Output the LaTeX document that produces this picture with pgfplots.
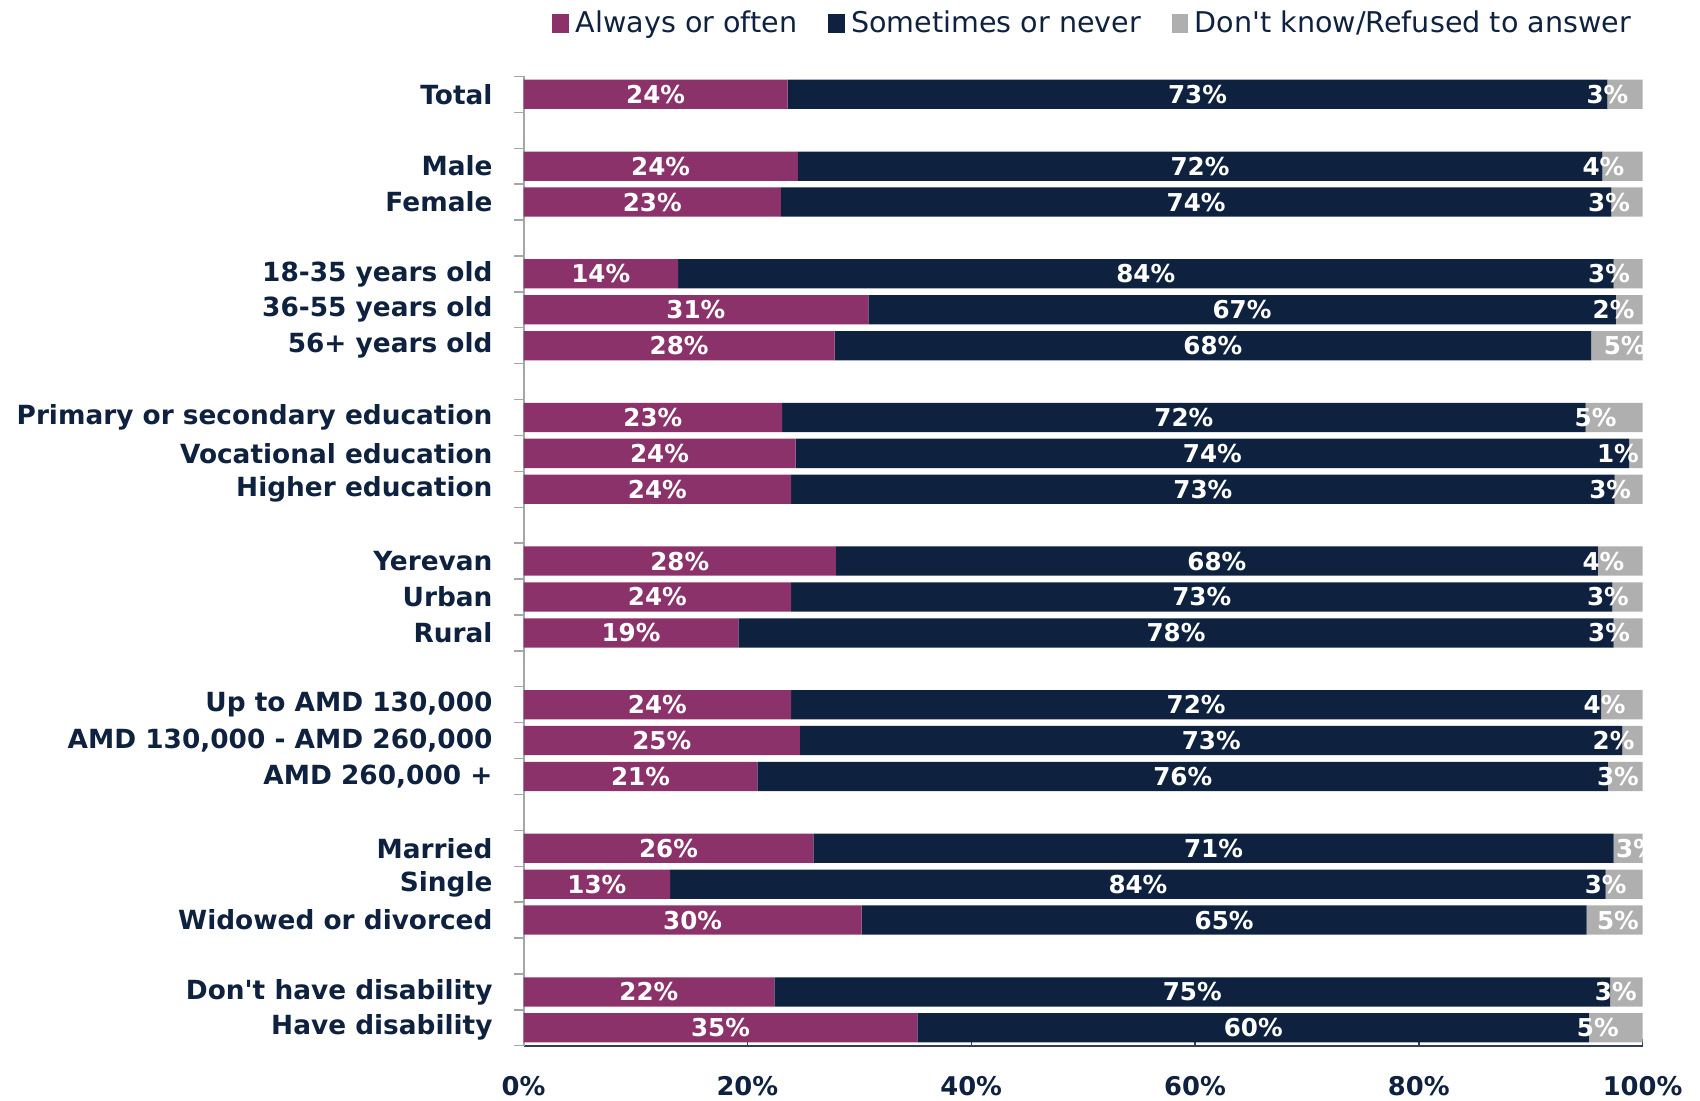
\documentclass[border=0pt]{standalone}
\usepackage{fontspec}
\setmainfont{DejaVu Sans}
\usepackage{pgfplots}
\usepackage{pgfplotstable}
\pgfplotsset{compat=1.18}
\definecolor{cmag}{RGB}{140,50,106}
\definecolor{cnavy}{RGB}{14,34,64}
\definecolor{cgrey}{RGB}{175,175,175}
\definecolor{ctext}{RGB}{14,34,64}
\definecolor{caxis}{RGB}{166,166,166}
\definecolor{cbot}{RGB}{50,62,84}

\pgfplotstableread{
y  a     b      c     la lb lc gx
0  23.6  73.25  3.15  24 73 3  96.86
2  24.5  71.9   3.6   24 72 4  96.5
3  23.0  74.2   2.8   23 74 3  97.0
5  13.8  83.6   2.6   14 84 3  97.0
6  30.8  66.8   2.4   31 67 2  97.4
7  27.8  67.6   4.6   28 68 5  98.4
9  23.1  71.8   5.1   23 72 5  95.8
10 24.3  74.5   1.2   24 74 1  97.8
11 23.9  73.6   2.5   24 73 3  97.1
13 27.9  68.1   4.0   28 68 4  96.5
14 23.9  73.4   2.7   24 73 3  96.9
15 19.2  78.2   2.6   19 78 3  97.0
17 23.9  72.4   3.7   24 72 4  96.6
18 24.7  73.5   1.8   25 73 2  97.4
19 20.9  76.0   3.1   21 76 3  97.8
21 25.9  71.5   2.6   26 71 3  99.5
22 13.1  83.6   3.3   13 84 3  96.7
23 30.2  64.8   5.0   30 65 5  97.8
25 22.4  74.7   2.9   22 75 3  97.6
26 35.2  60.0   4.8   35 60 5  96.0
}\data

\begin{document}
\begin{tikzpicture}
\useasboundingbox (-7.854,-0.8145) rectangle (17.646,15.686);
\begin{axis}[
  scale only axis, width=16.785cm, height=14.54cm,
  xmin=0, xmax=100, ymin=-0.5, ymax=26.5, y dir=reverse,
  xbar stacked, bar width=0.815,
  axis x line*=bottom, axis y line*=left,
  x axis line style={draw=cbot, line width=0.8pt},
  y axis line style={draw=caxis, line width=0.8pt},
  tick align=outside,
  major tick length=0.1cm, minor tick length=0.15cm,
  xtick={0,20,40,60,80,100},
  xticklabels={0\%,20\%,40\%,60\%,80\%,100\%},
  major x tick style={draw=cbot, line width=0.6pt, yshift=0.1cm},
  xticklabel style={font=\fontsize{11}{13}\selectfont\bfseries, text=ctext, inner sep=0pt, anchor=north, yshift=-0.35cm},
  ytick={0,2,3,5,6,7,9,10,11,13,14,15,17,18,19,21,22,23,25,26},
  yticklabels={Total,Male,Female,18-35 years old,36-55 years old,56+ years old,
    Primary or secondary education,Vocational education,Higher education,
    Yerevan,Urban,Rural,{Up to AMD 130,000},{AMD 130,000 - AMD 260,000},{AMD 260,000 +},
    Married,Single,Widowed or divorced,Don\textquotesingle t have disability,Have disability},
  minor ytick={-0.5,0.5,...,26.5},
  major y tick style={draw=none},
  minor y tick style={draw=caxis, line width=0.6pt},
  yticklabel style={font=\fontsize{11.25}{13}\selectfont\bfseries, text=ctext, inner sep=0pt, anchor=east, xshift=-0.36cm},
  legend columns=3,
  legend style={draw=none, fill=none, at={(rel axis cs:0.0254,1.0545)}, anchor=west,
    font=\fontsize{12.2}{14}\selectfont, text=ctext, inner sep=0pt,
    nodes={inner xsep=2.8pt, inner ysep=0pt},
    /tikz/every even column/.append style={column sep=0.36cm}},
  legend image code/.code={\fill[#1] (0cm,-0.14cm) rectangle (0.25cm,0.14cm);},
]
\addplot[fill=cmag, draw=none] table[x=a, y=y] {\data};
\addplot[fill=cnavy, draw=none] table[x=b, y=y] {\data};
\addplot[fill=cgrey, draw=none] table[x=c, y=y] {\data};
\legend{Always or often, Sometimes or never, Don\textquotesingle t know/Refused to answer}
\end{axis}
\begin{axis}[
  scale only axis, width=16.785cm, height=14.54cm,
  xmin=0, xmax=100, ymin=-0.5, ymax=26.5, y dir=reverse,
  hide axis, clip=false,
  nodes near coords={\pgfplotspointmeta\%},
  point meta=explicit symbolic,
  every node near coord/.append style={anchor=center, text=white, inner sep=0pt,
    font=\fontsize{10.5}{12}\selectfont\bfseries},
]
\addplot[draw=none] table[x expr=\thisrow{a}/2, y=y, meta=la] {\data};
\addplot[draw=none] table[x expr=\thisrow{a}+\thisrow{b}/2, y=y, meta=lb] {\data};
\addplot[draw=none] table[x=gx, y=y, meta=lc] {\data};
\end{axis}
\end{tikzpicture}
\end{document}
